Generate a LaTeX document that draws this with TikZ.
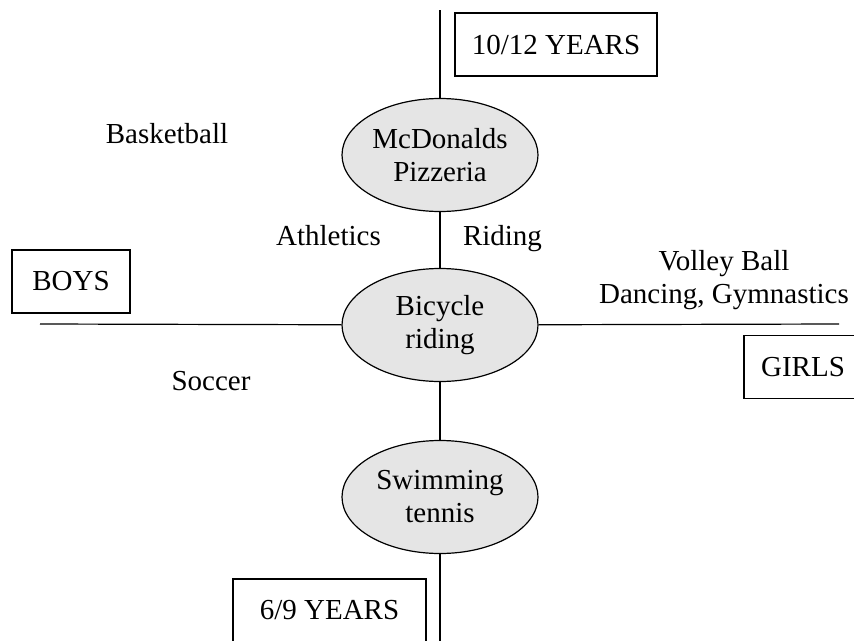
\documentclass[tikz,border=0pt]{standalone}
\usepackage{fontspec}
\setmainfont{Liberation Serif}
\usepackage{tikz}
\usetikzlibrary{shapes.geometric}

\definecolor{ovalgray}{gray}{0.9}

\begin{document}
\begin{tikzpicture}[
            x = 1pt, y = -1pt, % pixel-like units, y goes down
            font = \fontsize{29}{33}\selectfont,
            line width = 1.2pt, % line style
            oval/.style = {ellipse, draw, fill=ovalgray, align=center,
                           minimum width=196pt, minimum height=113pt, inner sep=0pt},
            tag/.style = {draw, minimum height=63pt, inner sep=0pt},
            lbl/.style = {anchor=base, inner sep=0pt}
        ]

	\useasboundingbox (0,0) rectangle (854,640);

	% age axis
	\coordinate (top) at (440,10);
	\coordinate (bottom) at (440,642);
	% gender axis
	\coordinate (left) at (40,324);
	\coordinate (right) at (839,324);

	\node[oval] (mcd) at (440,155) {McDonalds\\Pizzeria};
	\node[oval] (bike) at (440,325) {Bicycle\\riding};
	\node[oval] (swim) at (440,497) {Swimming\\tennis};

	\draw (top) -- (mcd);
	\draw (mcd) -- (bike);
	\draw (bike) -- (swim);
	\draw (swim) -- (bottom);
	\draw (left) -- (bike);
	\draw (bike) -- (right);

	\node[tag, minimum width=202pt] (old) at (556,44.5) {10/12 YEARS};
	\node[tag, minimum width=193pt] (young) at (329.5,610.5) {6/9 YEARS};
	\node[tag, minimum width=118pt] (boys) at (71,281.5) {BOYS};
	\node[tag, minimum width=118pt] (girls) at (803,367) {GIRLS};

	\node[lbl] (basket) at (167,143) {Basketball};
	\node[lbl] (athl) at (328.5,245) {Athletics};
	\node[lbl] (ride) at (502.5,245) {Riding};
	\node[lbl] (soccer) at (211,390) {Soccer};
	\node[align=center, inner sep=0pt] (volley) at (724,280) {Volley Ball\\Dancing, Gymnastics};

\end{tikzpicture}
\end{document}
